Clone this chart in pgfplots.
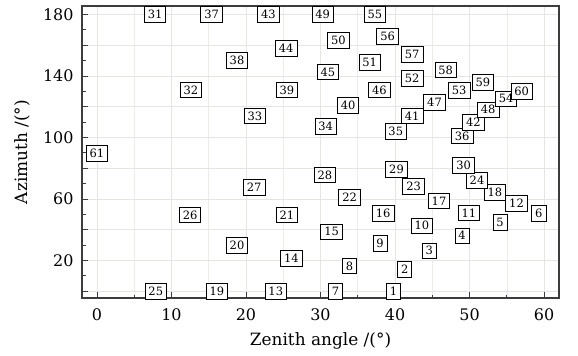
\documentclass[border=0pt]{standalone}
\usepackage{fontspec}
\setmainfont{DejaVu Serif}
\usepackage{pgfplots}
\usepackage{pgfplotstable}
\pgfplotsset{compat=1.18}
\definecolor{gridc}{RGB}{232,228,226}
\definecolor{axc}{RGB}{60,60,60}
\pgfplotstableread{
x y label
39.8 0 1
41.3 14.1 2
44.6 26.3 3
49.0 36.1 4
54.1 44.8 5
59.3 50.7 6
32.0 0 7
33.9 16.5 8
38.0 31.1 9
43.6 42.6 10
49.9 51.0 11
56.3 57.2 12
24.0 0 13
26.1 21.3 14
31.5 38.7 15
38.4 50.7 16
45.9 58.7 17
53.4 64.1 18
16.1 0 19
18.8 30.0 20
25.5 49.6 21
33.9 61.1 22
42.5 68.0 23
51.0 72.0 24
7.9 0 25
12.5 49.6 26
21.1 67.6 27
30.6 75.7 28
40.2 79.4 29
49.2 81.7 30
7.8 180 31
12.6 131 32
21.2 114 33
30.7 107.2 34
40.1 103.9 35
49.0 101 36
15.4 180 37
18.8 150 38
25.5 131 39
33.7 120.9 40
42.3 114 41
50.5 109.8 42
23.0 180 43
25.4 157.9 44
31.0 142.6 45
37.9 131 46
45.3 123 47
52.5 118 48
30.3 180 49
32.4 163 50
36.6 149 51
42.3 138.3 52
48.6 130.5 53
54.9 125.2 54
37.3 180 55
39.0 165.9 56
42.3 154 57
46.8 144 58
51.8 136 59
57.0 130 60
0 89.6 61
}\pts
\begin{document}
\begin{tikzpicture}
\begin{axis}[
  scale only axis,
  width=477bp, height=292bp,
  xmin=-2, xmax=62, ymin=-4.4, ymax=185.5,
  xtick={0,10,...,60},
  minor x tick num=1,
  ytick={0,20,...,180},
  yticklabels={,20,,60,,100,,140,,180},
  minor y tick num=1,
  xmajorgrids, xminorgrids, ymajorgrids,
  major grid style={gridc, line width=0.8pt},
  minor grid style={gridc!75, line width=0.6pt},
  tick align=inside,
  tick pos=left,
  major tick length=6bp,
  minor tick length=3.5bp,
  every tick/.style={axc, line width=0.8pt},
  axis line style={axc, line width=1.2pt},
  /pgf/number format/assume math mode=true,
  ticklabel style={font=\fontsize{16}{19}\selectfont},
  xticklabel style={yshift=-7bp},
  yticklabel style={xshift=-5bp},
  label style={font=\fontsize{17}{20}\selectfont},
  xlabel={Zenith angle /(°)},
  ylabel={Azimuth /(°)},
  xlabel style={yshift=-5bp},
  ylabel style={yshift=6bp},
  clip=false,
]
\addplot[only marks, mark=none,
  nodes near coords,
  point meta=explicit symbolic,
  every node near coord/.style={anchor=center, draw=black, fill=white,
    line width=0.8pt, inner xsep=3.5bp, inner ysep=3.6bp,
    text height=8.4bp, text depth=0pt,
    font=\fontsize{11.5}{14}\selectfont}
] table[x=x, y=y, meta=label] {\pts};
\end{axis}
\pgfresetboundingbox
\path[use as bounding box] ([shift={(-82bp,-57bp)}]current axis.south west) rectangle ([shift={(19bp,6bp)}]current axis.north east);
\end{tikzpicture}
\end{document}
